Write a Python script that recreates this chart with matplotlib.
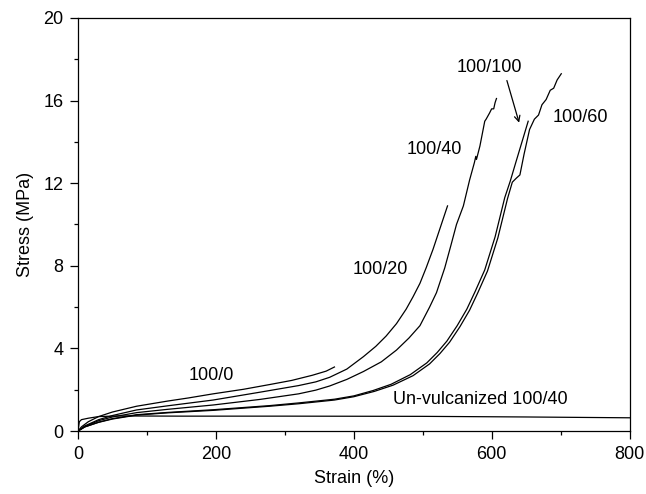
import matplotlib.pyplot as plt
from matplotlib.ticker import MultipleLocator

plt.rcParams['font.family'] = ['Liberation Sans', 'DejaVu Sans']

# strain (%) / stress (MPa) for each blend
strain_0 = [0, 5, 15, 30, 50, 85, 130, 160, 196, 240, 278, 310, 340, 360, 372]
stress_0 = [0, 0.2, 0.45, 0.7, 0.92, 1.2, 1.45, 1.6, 1.8, 2.02, 2.25, 2.45, 2.7, 2.9, 3.1]

strain_20 = [0, 10, 30, 50, 85, 130, 196, 264, 320, 345, 365, 390, 414, 432, 447, 462, 476,
             486, 496, 505, 515, 525, 536]
stress_20 = [0, 0.25, 0.55, 0.75, 1.02, 1.22, 1.5, 1.88, 2.2, 2.38, 2.6, 3.0, 3.6, 4.1, 4.6, 5.2, 5.9,
             6.5, 7.15, 7.9, 8.8, 9.8, 10.9]

strain_40 = [0, 10, 30, 50, 85, 130, 196, 264, 320, 345, 365, 390, 414, 440, 462, 480, 496, 510, 520,
             532, 541, 549, 559, 568, 575, 577, 578, 583, 590, 592, 597, 600, 603, 605, 607]
stress_40 = [0, 0.22, 0.5, 0.68, 0.89, 1.05, 1.26, 1.53, 1.8, 1.98, 2.18, 2.5, 2.88, 3.35, 3.92, 4.5, 5.1, 6.0, 6.7,
             7.9, 9.0, 10.0, 10.9, 12.15, 13.0, 13.3, 13.15, 13.8, 15.0, 15.1, 15.4, 15.6, 15.6, 15.9, 16.1]

strain_60 = [0, 10, 30, 50, 85, 130, 196, 278, 320, 372, 400, 430, 457, 486, 510, 525, 539, 554, 568, 580,
             594, 609, 623, 630, 636, 641, 647, 655, 662, 668, 673, 679, 685, 690, 695, 701]
stress_60 = [0, 0.2, 0.42, 0.58, 0.77, 0.88, 1.0, 1.2, 1.32, 1.5, 1.66, 1.92, 2.22, 2.68, 3.25, 3.75, 4.3, 5.05,
             5.85, 6.7, 7.75, 9.35, 11.25, 12.05, 12.25, 12.4, 13.4, 14.6, 15.1, 15.3, 15.8, 16.05, 16.5, 16.6,
             17.0, 17.3]

strain_100 = [0, 10, 30, 50, 85, 130, 196, 278, 320, 372, 400, 428, 454, 482, 506, 521, 535, 550, 564, 576,
              590, 605, 619, 627, 635, 644, 653]
stress_100 = [0, 0.2, 0.43, 0.6, 0.79, 0.9, 1.03, 1.23, 1.36, 1.54, 1.7, 1.96, 2.26, 2.73, 3.3, 3.8, 4.35, 5.1,
              5.9, 6.75, 7.8, 9.4, 11.3, 12.1, 13.0, 14.0, 15.0]

strain_unv = [0, 2, 5, 15, 30, 60, 150, 300, 500, 650, 800]
stress_unv = [0, 0.45, 0.55, 0.62, 0.7, 0.73, 0.72, 0.72, 0.71, 0.68, 0.64]

fig = plt.figure(figsize=(6.46, 4.94), dpi=100)
ax = fig.add_axes([0.1207, 0.1275, 0.8538, 0.8361])

for x, y in [(strain_0, stress_0), (strain_20, stress_20), (strain_40, stress_40),
             (strain_60, stress_60), (strain_100, stress_100), (strain_unv, stress_unv)]:
    ax.plot(x, y, color='black', lw=0.9)

ax.set_xlim(0, 800)
ax.set_ylim(0, 20)
ax.xaxis.set_major_locator(MultipleLocator(200))
ax.xaxis.set_minor_locator(MultipleLocator(100))
ax.yaxis.set_major_locator(MultipleLocator(4))
ax.yaxis.set_minor_locator(MultipleLocator(2))
ax.tick_params(which='major', direction='out', length=5.5, width=0.9, labelsize=13,
               pad=5, top=False, right=False)
ax.tick_params(which='minor', direction='out', length=3, width=0.9, top=False, right=False)
for s in ax.spines.values():
    s.set_linewidth(0.9)

ax.set_xlabel('Strain (%)', fontsize=13, labelpad=5)
ax.set_ylabel('Stress (MPa)', fontsize=13, labelpad=7)

ax.text(194, 2.7, '100/0', fontsize=13, ha='center', va='center')
ax.text(438, 7.8, '100/20', fontsize=13, ha='center', va='center')
ax.text(517, 13.65, '100/40', fontsize=13, ha='center', va='center')
ax.text(597, 17.58, '100/100', fontsize=13, ha='center', va='center')
ax.text(728, 15.16, '100/60', fontsize=13, ha='center', va='center')
ax.text(583, 1.55, 'Un-vulcanized 100/40', fontsize=13, ha='center', va='center')
ax.annotate('', xy=(641, 14.8), xytext=(621, 17.1),
            arrowprops=dict(arrowstyle='->', color='black', lw=0.9))

fig.savefig('out.png', dpi=100)
